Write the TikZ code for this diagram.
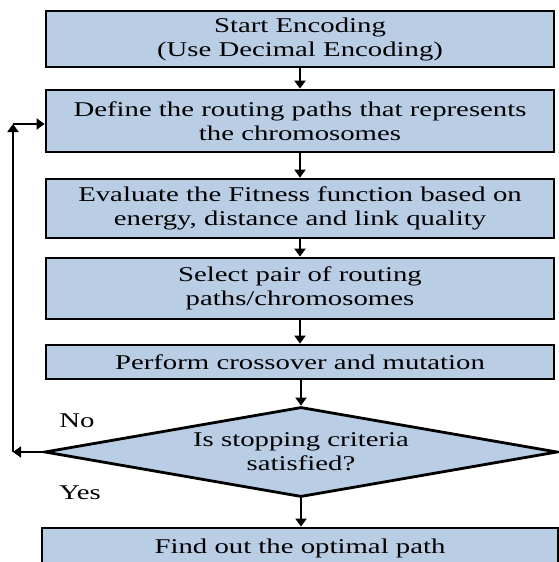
\documentclass[tikz,border=0pt]{standalone}
\usepackage{fontspec}
\setmainfont{Liberation Serif}[FakeStretch=1.37]
\usetikzlibrary{shapes.geometric,arrows.meta}
\definecolor{boxfill}{HTML}{B9CDE5}

\begin{document}
\begin{tikzpicture}[
        stepbox/.style = {fill = boxfill, draw, rectangle, line width = 2.8pt, minimum width = 508pt, inner sep = 0pt, align = center, font = \fontsize{21}{24}\selectfont},
        decision/.style = {fill = boxfill, draw, diamond, line width = 2.8pt, minimum width = 513pt, minimum height = 90pt, aspect = 5.7, inner sep = 0pt, align = center, font = \fontsize{21}{24}\selectfont},
        flow/.style = {-{Triangle[length = 8pt, width = 11pt]}, line width = 2.8pt},
        answer/.style = {font = \fontsize{21}{24}\selectfont}
    ]
        \useasboundingbox (0pt, 0pt) rectangle (559pt, -562pt);

        % Nodes
        \node [stepbox, minimum height = 56pt] (start) at (300pt, -39pt) {Start Encoding\\(Use Decimal Encoding)};
        \node [stepbox, minimum height = 62pt] (define) at (300pt, -121pt) {Define the routing paths that represents\\the chromosomes};
        \node [stepbox, minimum height = 59pt] (fitness) at (300pt, -208.5pt) {Evaluate the Fitness function based on\\energy, distance and link quality};
        \node [stepbox, minimum height = 61pt] (select) at (300pt, -288.5pt) {Select pair of routing\\paths/chromosomes};
        \node [stepbox, minimum height = 34pt] (cross) at (300pt, -362pt) {Perform crossover and mutation};
        \node [decision] (stop) at (301pt, -452pt) {Is stopping criteria\\satisfied?};
        \node [stepbox, minimum width = 516pt, minimum height = 40pt] (optimal) at (300pt, -548pt) {Find out the optimal path};

        % Draw the links
        \draw [flow] (start) -- (define);
        \draw [flow] (define) -- (fitness);
        \draw [flow] (fitness) -- (select);
        \draw [flow] (select) -- (cross);
        \draw [flow] (cross.south -| stop) -- (stop.north);
        \draw [flow] (stop.south) -- (optimal.north -| stop);

        % Loop back
        \coordinate (noturn) at (13pt, -452pt);
        \coordinate (upturn) at (13pt, -124pt);
        \draw [flow] (stop.west) -- (noturn);
        \draw [flow] (noturn) -- (upturn);
        \draw [flow] (upturn) -- (upturn -| define.west);

        % Answers
        \node [answer] (nolabel) at (77pt, -421pt) {No};
        \node [answer] (yeslabel) at (80pt, -493pt) {Yes};

    \end{tikzpicture}
\end{document}
